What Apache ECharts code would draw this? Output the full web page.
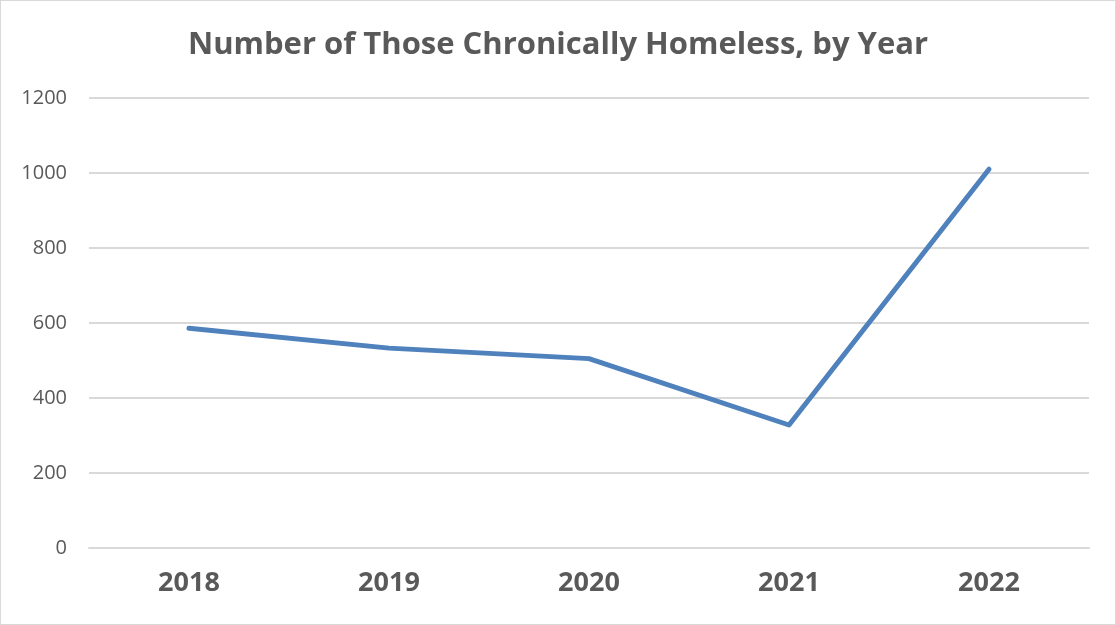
<!DOCTYPE html>
<html><head><meta charset="utf-8">
<script src="https://cdn.jsdelivr.net/npm/echarts@6/dist/echarts.min.js"></script>
<style>html,body{margin:0;padding:0;background:#fff}#c{width:1114px;height:623px;border:1px solid #d9d9d9}</style>
</head><body><div id="c"></div>
<script>
const years = ['2018','2019','2020','2021','2022'];
const chronicallyHomeless = [586, 533, 505, 328, 1010];
const titleText = 'Number of Those Chronically Homeless, by Year';
const chart = echarts.init(document.getElementById('c'));
chart.setOption({
  animation:false,
  title:{text:titleText,left:'center',top:24,textStyle:{fontFamily:'Open Sans',fontSize:31,fontWeight:'bold',color:'#595959'}},
  grid:{left:88,right:26,top:97,bottom:76},
  xAxis:{type:'category',data:years,boundaryGap:true,
    axisLine:{show:true,lineStyle:{color:'#d9d9d9',width:2}},axisTick:{show:false},
    axisLabel:{fontFamily:'Open Sans',fontSize:27,fontWeight:'bold',color:'#595959',margin:22}},
  yAxis:{type:'value',min:0,max:1200,interval:200,
    axisLine:{show:false},axisTick:{show:false},
    splitLine:{lineStyle:{color:'#d9d9d9',width:2}},
    axisLabel:{fontFamily:'Open Sans',fontSize:20,color:'#595959',margin:22,formatter:v=>String(v)}},
  series:[{type:'line',data:chronicallyHomeless,symbol:'none',
    lineStyle:{color:'#4f81bd',width:5,cap:'round',join:'round'}}]
});
</script></body></html>
